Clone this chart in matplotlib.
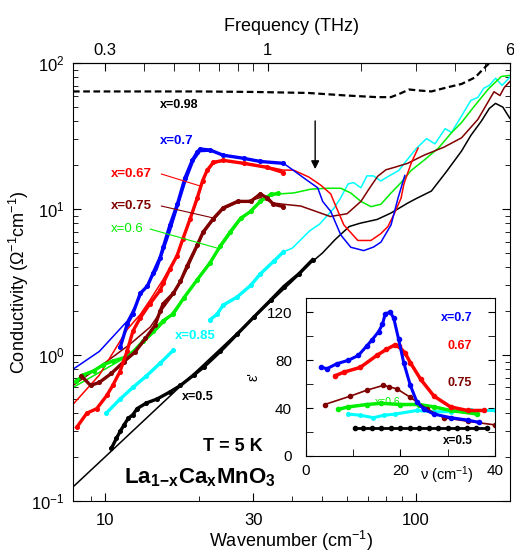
import numpy as np
import matplotlib
matplotlib.use('Agg')
import matplotlib.pyplot as plt
from matplotlib.ticker import FixedLocator, NullFormatter

plt.rcParams['font.family'] = ['Liberation Sans', 'DejaVu Sans']
plt.rcParams['mathtext.default'] = 'regular'

BLUE = '#0000ff'
RED = '#ff0000'
BROWN = '#800000'
GREEN = '#00ee00'
CYAN = '#00ffff'
BLACK = '#000000'

# ---- main panel: conductivity vs wavenumber (cm^-1) ----
# x=0.98 (dashed)
w98 = [7.9, 12, 20, 30, 45, 60, 75, 83, 89, 95, 102, 112, 125, 140, 155, 165, 172, 180]
s98 = [64, 64, 64, 63.5, 62.5, 60, 58.5, 58.5, 62, 66, 65, 64, 68, 72, 80, 92, 100, 110]

# x=0.7
w70_pts = [11.2, 11.8, 12.3, 13.0, 13.7, 14.3, 15.05, 15.4, 16.2, 17.1, 18.1, 19.1, 19.8,
           20.25, 21.8, 24.0, 27.9, 31.6, 37.5]
s70_pts = [1.13, 1.63, 1.92, 2.65, 2.97, 3.66, 4.66, 5.48, 7.81, 10.8, 16.4, 21.6, 24.6,
           25.8, 25.4, 23.4, 22.3, 21.2, 20.6]
w70_line = [7.9, 9.6, 11.8, 13.3, 14.7, 16.2, 18.1, 19.3, 20.25, 22, 24, 28, 32, 37.5, 40.4,
            43.5, 48.3, 50.1, 53.2, 57.3, 61.7, 67.9, 73, 77.1, 83.1, 87.5, 92]
s70_line = [0.8, 1.06, 1.71, 2.78, 3.84, 7.0, 15, 21.5, 24.8, 25, 23.5, 22.3, 21.2, 20.6, 18.4,
            16.4, 14, 11.3, 9.64, 6.65, 5.48, 5.2, 5.5, 5.94, 7.8, 11.9, 17]

# x=0.67
w67_pts = [8.12, 8.75, 9.42, 10.15, 10.6, 11.18, 11.78, 12.31, 12.97, 13.97, 15.05, 15.4,
           16.2, 17.07, 17.8, 18.8, 19.8, 20.6, 21.3, 22.3, 24.0, 27.9, 33.3, 37.5]
s67_pts = [0.32, 0.4, 0.43, 0.53, 0.62, 0.77, 1.06, 1.46, 1.79, 2.25, 2.78, 3.1,
           3.9, 4.81, 6.23, 8.6, 11.9, 15.6, 18.4, 20.9, 21.6, 20.6, 19.3, 17.8]
w67_line = [7.9, 9.6, 11.8, 13, 14, 15.4, 17, 18.8, 19.8, 20.6, 21.3, 22.3, 24, 27.9, 33.3,
            37.5, 40.4, 45.2, 49.4, 53.2, 54.4, 58.6, 65, 71.6, 77.1, 81.2, 84.9, 89.5, 91.4,
            96.4, 101.5]
s67_line = [0.46, 0.73, 1.5, 1.9, 2.4, 3.3, 4.8, 8.4, 11.5, 15.2, 18, 20.5, 21.4, 20.8, 19.5,
            18.5, 18.5, 16.6, 14.6, 12.7, 11.3, 7.8, 6.1, 6.1, 6.8, 7.6, 9.2, 11.9, 14.9,
            20.6, 26.2]

# x=0.75
w75_pts = [8.4, 9.0, 9.6, 10.5, 11.5, 12.5, 13.5, 14.5, 15.05, 15.4, 16.6, 17.5, 18.4, 19.8,
           20.7, 22.3, 24.0, 26.7, 29.4, 31.6, 33.3, 34.8, 37.5]
s75_pts = [0.72, 0.62, 0.65, 0.75, 0.9, 1.05, 1.3, 1.6, 2.0, 2.25, 2.65, 3.2, 4.1, 5.66,
           6.98, 8.6, 10.2, 11.3, 11.3, 12.7, 11.9, 10.8, 10.4]
w75_line = [7.9, 9.6, 12, 14, 15.4, 16.6, 18.4, 19.8, 20.7, 22.3, 24, 26.7, 29.4, 31.6, 35,
            37.5, 42.6, 48, 53, 60, 66.5, 71, 75.3, 80, 85, 94, 106, 123, 140, 158, 178,
            186, 192, 200]
s75_line = [0.62, 0.83, 1.18, 1.56, 2.1, 2.6, 3.9, 5.5, 6.8, 8.4, 10, 11.1, 11.5, 12, 11,
            10.8, 10.5, 9.6, 8.9, 9.3, 11.3, 14, 16.8, 18.6, 19.3, 20.6, 23.4, 26.6, 30.8,
            41.2, 63.7, 60, 68, 74.8]

# x=0.6
w60_pts = [8.1, 8.5, 9.2, 9.9, 10.6, 11.5, 12.3, 13.3, 14.3, 15.4, 16.6, 17.9, 19.8, 21.8,
           23.5, 25.3, 27.3, 29.4, 31.6, 34.1, 36]
s60_pts = [0.66, 0.73, 0.78, 0.86, 0.91, 0.96, 1.05, 1.25, 1.46, 1.72, 1.92, 2.45, 3.28, 4.3,
           5.6, 7.0, 8.65, 9.64, 11.3, 12.6, 12.8]
w60_line = [7.9, 10, 12, 14, 16, 18, 20, 22, 24, 27, 30, 33, 36, 40.4, 45.9, 52, 57.3, 61.7,
            66.5, 71.6, 77.1, 83.1, 89.5, 96.4, 106, 118, 130, 140, 154, 171, 188, 200]
s60_line = [0.6, 0.8, 1.0, 1.35, 1.8, 2.5, 3.4, 4.5, 5.8, 8.2, 10.2, 12, 12.7, 12.9, 13.7,
            13.9, 13.9, 12.9, 11.3, 10.4, 10.8, 12.9, 15.2, 18.4, 21.6, 26.2, 33.4, 39.2,
            50.8, 66.8, 81.1, 82.4]

# x=0.85 (two measured pieces, gap under the label)
w85_lo = [10.1, 11.2, 12.3, 13.6, 15.05, 16.6]
s85_lo = [0.4, 0.5, 0.6, 0.72, 0.88, 1.08]
w85_hi = [21.8, 22.9, 24.0, 26.6, 29.4, 31.6, 34.9, 37.5]
s85_hi = [1.75, 1.9, 2.2, 2.5, 3.0, 3.6, 4.4, 5.1]
w85_line = [37.5, 40, 45.5, 49, 52.5, 54.6, 57.3, 60.5, 63, 66.5, 69.5, 73, 77, 82, 88, 93,
            100, 108, 115, 124, 130, 139, 150, 158, 165, 172, 180, 189, 200]
s85_line = [5.1, 5.4, 7.1, 7.9, 9.3, 10.2, 12, 14.9, 15.2, 14, 16.9, 16.9, 15.6, 16.9, 18.4,
            21.4, 25.9, 30.4, 28, 35.6, 33.5, 42.4, 55.6, 58.3, 67.3, 70.5, 78.8, 70.5, 80]

# x=0.5
w50_pts = [10.5, 10.9, 11.2, 11.5, 11.9, 12.3, 12.7, 13.6, 14.7, 16.2, 17.5, 19.3, 20.8,
           23.5, 26.6, 30.1, 34.1, 37.6, 42, 46.5]
s50_pts = [0.23, 0.27, 0.3, 0.33, 0.37, 0.39, 0.43, 0.47, 0.5, 0.56, 0.62, 0.73, 0.83,
           1.06, 1.39, 1.82, 2.38, 2.95, 3.6, 4.5]
w50_line = [7.9, 10, 15, 20, 30, 40, 46, 50, 55, 61, 66, 75, 83, 94, 100, 112, 125, 140,
            150, 162, 172, 180, 190, 200]
s50_line = [0.125, 0.2, 0.45, 0.8, 1.8, 3.2, 4.3, 5.0, 6.2, 7.6, 8.0, 8.5, 9.4, 11.0, 11.8,
            13.3, 18, 25, 32, 40, 49, 53, 50, 42]

# ---- inset: eps' vs nu (cm^-1) ----
nu70 = [3.3, 4.5, 6.5, 9, 11.1, 12.9, 14, 15.4, 16.2, 16.8, 17.9, 18.6, 19.6, 20.7, 22.1,
        23.5, 25, 27.1, 30.6, 34.2, 36.7]
e70 = [74, 73, 77, 80, 84, 92, 97, 104, 110, 119, 120, 115, 98, 78, 59, 45, 39, 35, 32, 30, 28]
nu67 = [6.2, 8, 11.5, 15, 17, 18.9, 19.6, 21, 22.1, 24.3, 27.1, 30.6, 34.2, 37.7]
e67 = [67, 70, 74, 84, 89, 93, 92, 86, 78, 64, 50, 41, 38, 38]
nu75 = [4, 9.4, 12.9, 16.4, 17.5, 19.3, 22.1, 25.7, 29.2, 34.2, 39.9]
e75 = [43, 50, 55, 59, 58, 56, 49, 39, 32, 29, 26]
nu60 = [6.9, 9, 12.9, 16, 20, 24, 27.1, 30.6, 36.3]
e60 = [39, 41, 43, 44, 43, 43, 41, 38, 35]
nu85 = [9, 11.5, 14.3, 16.5, 18.9, 23.5, 27, 30.6, 35, 40]
e85 = [35, 34, 32, 34, 35, 38, 37, 37, 38, 38]
nu50 = [10.4, 12, 14, 16, 18, 20, 22, 24, 26, 28, 30, 32, 34, 36, 38.3]
e50 = [23, 23, 23, 23, 23, 23, 23, 23, 23, 23, 23, 23, 23, 23, 23]

fig = plt.figure(figsize=(5.14, 5.54), dpi=100)
ax = fig.add_axes([0.142, 0.0955, 0.850, 0.7905])
ax.set_xscale('log')
ax.set_yscale('log')

# smooth lines
ax.plot(w98, s98, color=BLACK, lw=1.6, ls=(0, (3, 1.6)))
ax.plot(w50_line, s50_line, color=BLACK, lw=1.1)
ax.plot(w85_line, s85_line, color=CYAN, lw=1.1)
ax.plot(w60_line, s60_line, color=GREEN, lw=1.1)
ax.plot(w75_line, s75_line, color=BROWN, lw=1.1)
ax.plot(w67_line, s67_line, color=RED, lw=1.1)
ax.plot(w70_line, s70_line, color=BLUE, lw=1.1)

# measured points
for w, s, c in [(w50_pts, s50_pts, BLACK), (w85_lo, s85_lo, CYAN), (w85_hi, s85_hi, CYAN),
                (w60_pts, s60_pts, GREEN), (w75_pts, s75_pts, BROWN),
                (w67_pts, s67_pts, RED), (w70_pts, s70_pts, BLUE)]:
    ax.plot(w, s, color=c, lw=2.4, marker='o', ms=2.6, mec=c, mfc=c)

ax.set_xlim(7.9, 200.2)
ax.set_ylim(0.1, 100)

ax.xaxis.set_major_locator(FixedLocator([10, 30, 100]))
ax.set_xticklabels(['10', '30', '100'])
ax.xaxis.set_minor_locator(FixedLocator([9, 20, 40, 50, 60, 70, 80, 90]))
ax.xaxis.set_minor_formatter(NullFormatter())
ax.yaxis.set_major_locator(FixedLocator([0.1, 1, 10, 100]))
ax.set_yticklabels(['$10^{-1}$', '$10^{0}$', '$10^{1}$', '$10^{2}$'])
ax.yaxis.set_minor_locator(FixedLocator([m * d for d in [0.1, 1, 10] for m in range(2, 10)]))
ax.yaxis.set_minor_formatter(NullFormatter())
ax.tick_params(which='both', direction='in', right=True, top=False, labelsize=12)
ax.tick_params(which='major', length=6)
ax.tick_params(which='minor', length=3.5)
ax.tick_params(axis='x', which='major', pad=8.5)
ax.tick_params(axis='y', which='major', pad=6)

ax.set_xlabel('Wavenumber (cm$^{-1}$)', fontsize=13, labelpad=1)
ax.set_ylabel('Conductivity ($\\Omega^{-1}$cm$^{-1}$)', fontsize=13, labelpad=0)

top = ax.secondary_xaxis('top', functions=(lambda w: w / 33.356, lambda f: f * 33.356))
top.xaxis.set_major_locator(FixedLocator([0.3, 1, 6]))
top.set_xticklabels(['0.3', '1', '6'])
top.xaxis.set_minor_locator(FixedLocator([0.4, 0.5, 0.6, 0.7, 0.8, 0.9, 2, 3, 4, 5]))
top.xaxis.set_minor_formatter(NullFormatter())
top.tick_params(which='both', direction='in', labelsize=12)
top.tick_params(which='major', length=6)
top.tick_params(which='minor', length=6)
top.set_xlabel('Frequency (THz)', fontsize=13, labelpad=9)

# labels
ax.text(15.05, 52, 'x=0.98', color=BLACK, fontsize=9, fontweight='bold', va='center')
ax.text(15.05, 29.5, 'x=0.7', color=BLUE, fontsize=9.5, fontweight='bold', va='center')
ax.text(10.45, 17.4, 'x=0.67', color=RED, fontsize=9.5, fontweight='bold', va='center')
ax.text(10.45, 10.5, 'x=0.75', color=BROWN, fontsize=9.5, fontweight='bold', va='center')
ax.text(10.45, 7.3, 'x=0.6', color=GREEN, fontsize=9.5, va='center')
ax.text(16.8, 1.35, 'x=0.85', color=CYAN, fontsize=9.5, fontweight='bold', va='center')
ax.text(17.7, 0.52, 'x=0.5', color=BLACK, fontsize=9, fontweight='bold', va='center')
ax.plot([15.2, 20.25], [17.4, 14.4], color=RED, lw=0.8)
ax.plot([15.2, 22.3], [10.5, 8.7], color=BROWN, lw=0.8)
ax.plot([14.0, 23.0], [7.3, 5.4], color=GREEN, lw=0.8)

ax.annotate('', xy=(47.4, 18.0), xytext=(47.4, 42),
            arrowprops=dict(arrowstyle='-|>', color=BLACK, lw=1, mutation_scale=12))

ax.text(20.6, 0.235, 'T = 5 K', fontsize=13, fontweight='bold', ha='left', va='center')
ax.text(11.5, 0.145, 'La$_{1\\!-\\!x}$Ca$_x$MnO$_3$', fontsize=16, fontweight='bold',
        ha='left', va='center')

# inset
ins = fig.add_axes([0.595, 0.177, 0.368, 0.285])
ins.plot(nu50, e50, color=BLACK, lw=2, marker='o', ms=3)
ins.plot(nu85, e85, color=CYAN, lw=2.2, marker='o', ms=2.5)
ins.plot(nu60, e60, color=GREEN, lw=2.5, marker='o', ms=3)
ins.plot(nu75, e75, color=BROWN, lw=1.2, marker='o', ms=3)
ins.plot(nu67, e67, color=RED, lw=2.5, marker='o', ms=3)
ins.plot(nu70, e70, color=BLUE, lw=2.2, marker='o', ms=3)
ins.set_xlim(0, 40)
ins.set_ylim(0, 132)
ins.xaxis.set_major_locator(FixedLocator([0, 20, 40]))
ins.xaxis.set_minor_locator(FixedLocator([10, 30]))
ins.yaxis.set_major_locator(FixedLocator([0, 40, 80, 120]))
ins.yaxis.set_minor_locator(FixedLocator([20, 60, 100]))
ins.tick_params(which='both', direction='in', right=True, labelsize=11)
ins.tick_params(axis='x', which='major', pad=6)
ins.tick_params(axis='y', which='major', pad=10)
ins.tick_params(which='major', length=5)
ins.tick_params(which='minor', length=5)
ins.set_ylabel("ε'", fontsize=10, labelpad=4)
ins.text(0.745, -0.12, 'ν (cm$^{-1}$)', transform=ins.transAxes, fontsize=10.5,
         ha='center', va='center')
ins.text(28.5, 115, 'x=0.7', color=BLUE, fontsize=9, fontweight='bold', va='center')
ins.text(30, 92, '0.67', color=RED, fontsize=9, fontweight='bold', va='center')
ins.text(30, 61, '0.75', color=BROWN, fontsize=9, fontweight='bold', va='center')
ins.text(29, 12.5, 'x=0.5', color=BLACK, fontsize=8.5, fontweight='bold', va='center')
ins.text(14.5, 45, 'x=0.6', color=GREEN, fontsize=7.5, va='center')

fig.savefig('out.png', dpi=100)
